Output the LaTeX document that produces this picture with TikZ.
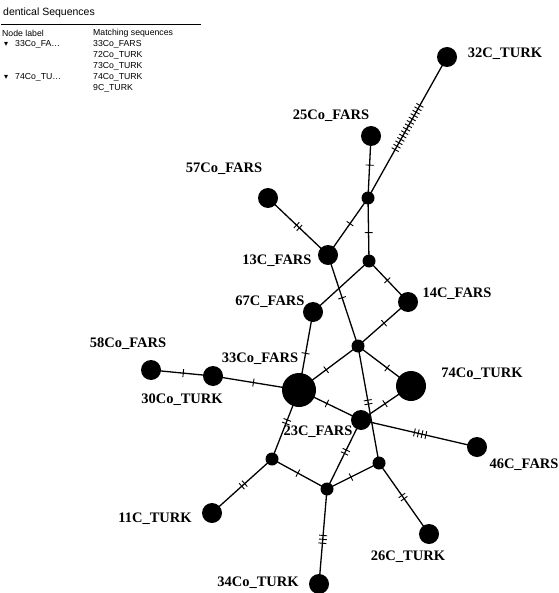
\documentclass[tikz,border=0pt]{standalone}
\usepackage{fontspec}
\setmainfont{Liberation Serif}
\newfontfamily\tblfont{Liberation Sans}
\newfontfamily\symfont{DejaVu Sans}
\usetikzlibrary{decorations.markings}
\pgfdeclarelayer{bg}
\pgfsetlayers{bg,main}
\tikzset{
  hap/.style={circle,fill=black,inner sep=0pt,minimum size=20pt},
  med/.style={circle,fill=black,inner sep=0pt,minimum size=13pt},
  lbl/.style={inner sep=0pt,font=\fontsize{14.5}{16}\selectfont\bfseries},
  tbl/.style={inner sep=0pt,anchor=west,font=\tblfont\fontsize{8.7}{10}\selectfont},
  edge/.style={line width=1.3pt,black},
  tk/.style 2 args={postaction={decorate,decoration={markings,
      mark=at position #1 with {\foreach \k in {1,...,#2}{\draw[line width=0.9pt] ({(\k-(#2+1)/2)*3.9pt},-4pt) -- ++(0pt,8pt);}}}}}
}
\begin{document}
\begin{tikzpicture}[x=1pt,y=-1pt]
\useasboundingbox (0,0) rectangle (558,593);

% identical sequences table
\node[tbl,font=\tblfont\fontsize{10.5}{12}\selectfont] (title) at (3,13) {dentical Sequences};
\coordinate (r0) at (1,24);
\coordinate (r1) at (201,24);
\draw[line width=0.8pt] (r0) -- (r1);
\node[tbl] (h1) at (2,33) {Node label};
\node[tbl] (h2) at (93,33) {Matching sequences};
\node[tbl,font=\symfont\fontsize{8}{10}\selectfont] (t1) at (4,44) {▾};
\node[tbl] (n1) at (15,44) {33Co\_FA…};
\node[tbl] (m1) at (93,44) {33Co\_FARS};
\node[tbl] (m2) at (93,55) {72Co\_TURK};
\node[tbl] (m3) at (93,66) {73Co\_TURK};
\node[tbl,font=\symfont\fontsize{8}{10}\selectfont] (t2) at (4,77) {▾};
\node[tbl] (n2) at (15,77) {74Co\_TU…};
\node[tbl] (m4) at (93,77) {74Co\_TURK};
\node[tbl] (m5) at (93,88) {9C\_TURK};

% haplotype nodes
\node[hap] (c32) at (447,57) {};
\node[hap] (c25) at (371,136) {};
\node[hap] (c57) at (268,198) {};
\node[hap] (c13) at (328,255) {};
\node[hap] (c14) at (408,302) {};
\node[hap] (c67) at (313,312) {};
\node[hap,minimum size=34pt] (c33) at (299,390) {};
\node[hap,minimum size=30pt] (c74) at (411,386) {};
\node[hap] (c58) at (151,370) {};
\node[hap] (c30) at (213,376) {};
\node[hap] (c23) at (361,420) {};
\node[hap] (c46) at (477,447) {};
\node[hap] (c11) at (212,513) {};
\node[hap] (c26) at (429,534) {};
\node[hap] (c34) at (319,584) {};
% median vertices
\node[med] (v1) at (368,198) {};
\node[med] (v2) at (369,261) {};
\node[med] (v3) at (358,346) {};
\node[med] (v4) at (272,459) {};
\node[med] (v5) at (379,463) {};
\node[med] (v6) at (327,489) {};

% labels
\node[lbl] (l32) at (505,54) {32C\_TURK};
\node[lbl] (l25) at (331,116) {25Co\_FARS};
\node[lbl] (l57) at (224,169) {57Co\_FARS};
\node[lbl] (l13) at (277,261) {13C\_FARS};
\node[lbl] (l67) at (270,302) {67C\_FARS};
\node[lbl] (l14) at (457,294) {14C\_FARS};
\node[lbl] (l33) at (260,359) {33Co\_FARS};
\node[lbl] (l58) at (128,344) {58Co\_FARS};
\node[lbl] (l30) at (182,400) {30Co\_TURK};
\node[lbl] (l74) at (482,374) {74Co\_TURK};
\node[lbl] (l23) at (318,432) {23C\_FARS};
\node[lbl] (l46) at (524,465) {46C\_FARS};
\node[lbl] (l11) at (155,519) {11C\_TURK};
\node[lbl] (l26) at (408,557) {26C\_TURK};
\node[lbl] (l34) at (258,583) {34Co\_TURK};

% connectors
\begin{pgfonlayer}{bg}
\draw[edge,tk={0.5}{14}] (c32.center) -- (v1.center);
\draw[edge,tk={0.47}{1}] (c25.center) -- (v1.center);
\draw[edge,tk={0.45}{1}] (v1.center) -- (c13.center);
\draw[edge,tk={0.55}{1}] (v1.center) -- (v2.center);
\draw[edge,tk={0.5}{2}] (c57.center) -- (c13.center);
\draw[edge] (v2.center) -- (c67.center);
\draw[edge,tk={0.47}{1}] (v2.center) -- (c14.center);
\draw[edge,tk={0.48}{1}] (c14.center) -- (v3.center);
\draw[edge,tk={0.47}{1}] (c13.center) -- (v3.center);
\draw[edge,tk={0.53}{1}] (c67.center) -- (c33.center);
\draw[edge,tk={0.54}{1}] (v3.center) -- (c33.center);
\draw[edge,tk={0.55}{1}] (v3.center) -- (c74.center);
\draw[edge,tk={0.52}{1}] (c58.center) -- (c30.center);
\draw[edge,tk={0.47}{1}] (c30.center) -- (c33.center);
\draw[edge,tk={0.45}{1}] (c33.center) -- (c23.center);
\draw[edge,tk={0.52}{1}] (c74.center) -- (c23.center);
\draw[edge,tk={0.48}{2}] (v3.center) -- (v5.center);
\draw[edge,tk={0.51}{4}] (c23.center) -- (c46.center);
\draw[edge,tk={0.46}{2}] (c33.center) -- (v4.center);
\draw[edge,tk={0.46}{2}] (c23.center) -- (v6.center);
\draw[edge,tk={0.47}{1}] (v4.center) -- (v6.center);
\draw[edge,tk={0.54}{1}] (v5.center) -- (v6.center);
\draw[edge,tk={0.48}{2}] (v4.center) -- (c11.center);
\draw[edge,tk={0.48}{2}] (v5.center) -- (c26.center);
\draw[edge,tk={0.53}{3}] (v6.center) -- (c34.center);
\end{pgfonlayer}
\end{tikzpicture}
\end{document}
